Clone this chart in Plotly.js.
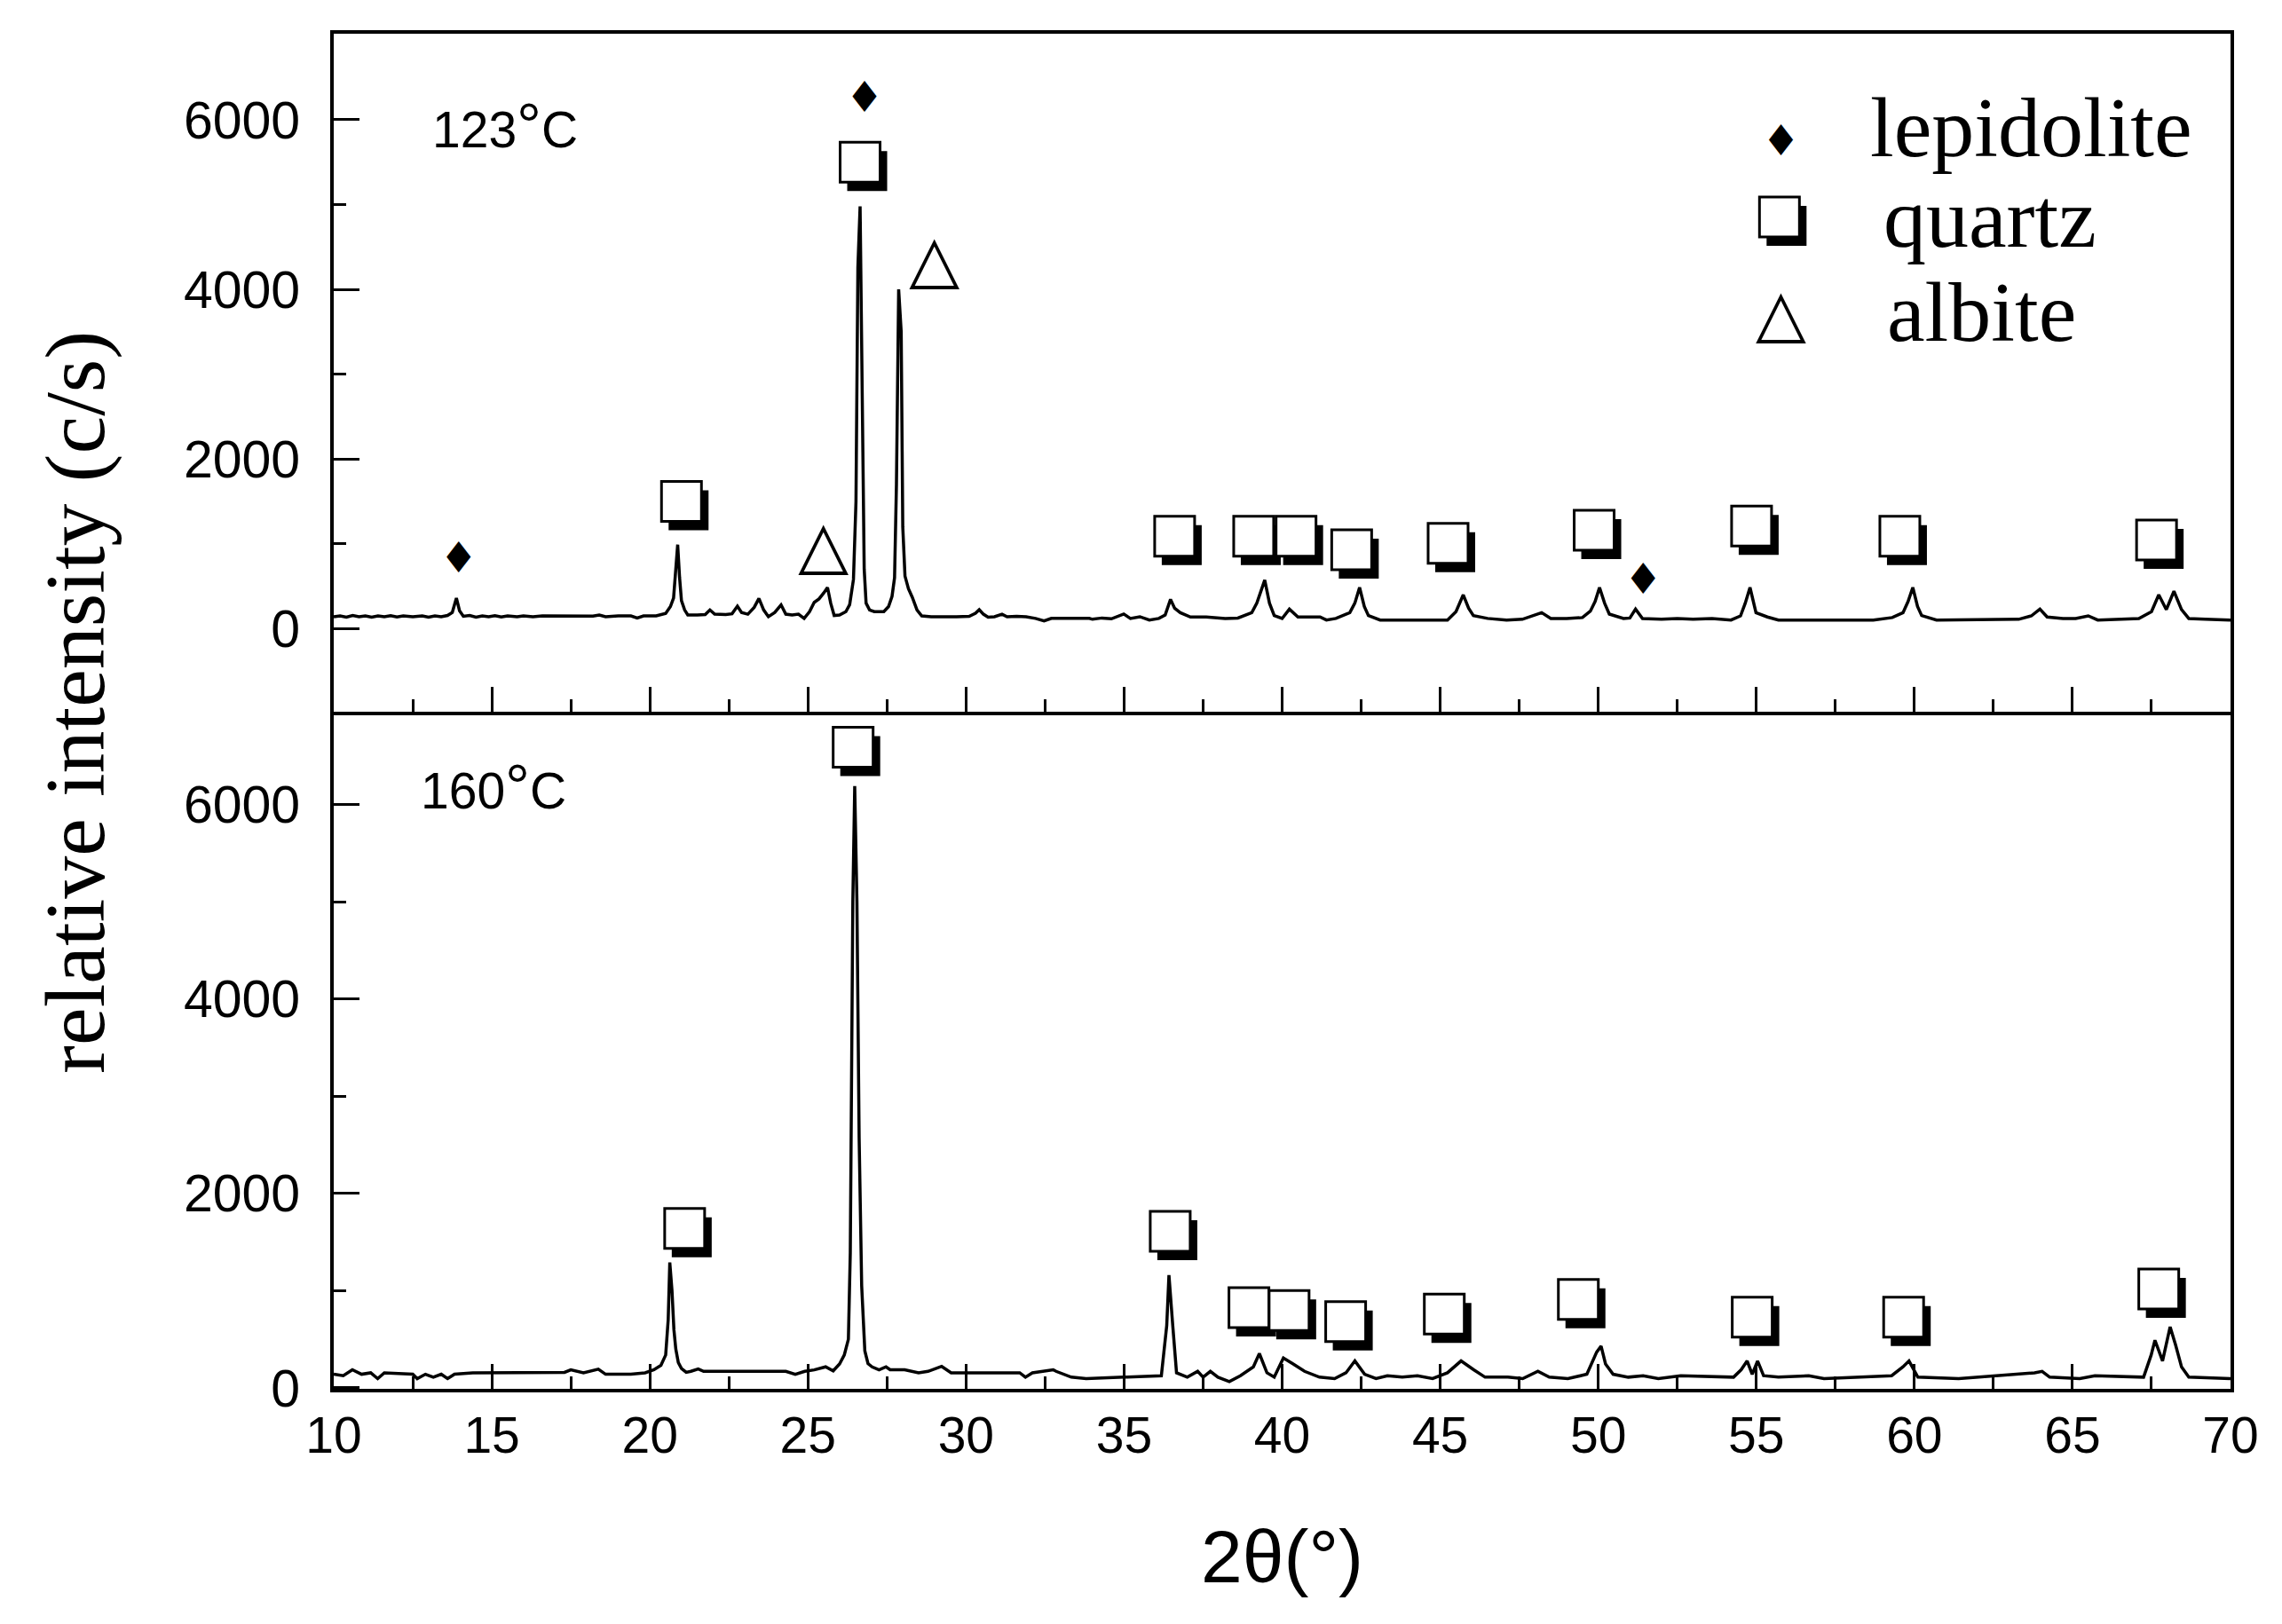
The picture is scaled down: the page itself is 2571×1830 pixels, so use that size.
<!DOCTYPE html>
<html><head><meta charset="utf-8">
<script src="https://cdn.plot.ly/plotly-3.0.1.min.js"></script>
<style>html,body{margin:0;padding:0;background:#fff;}</style>
</head><body>
<div id="chart" style="width:2571px;height:1830px;"></div>
<script>
// ---- data ----
// 123 °C pattern: [2θ, intensity]
const pattern123 = [
[10.0,140],[10.2,150],[10.4,135],[10.6,155],[10.8,140],[11.0,150],[11.2,135],[11.4,150],[11.6,140],[11.8,152],[12.0,138],[12.2,150],[12.5,140],[12.8,150],[13.0,135],[13.2,150],[13.4,140],[13.6,155],[13.75,190],[13.88,360],[13.98,210],[14.1,145],[14.3,155],[14.5,135],[14.7,150],[14.9,140],[15.1,152],[15.3,138],[15.5,150],[15.8,140],[16.0,150],[16.3,140],[16.6,150],[17.0,148],[17.4,145],[17.8,150],[18.2,148],[18.4,160],[18.6,140],[19.0,150],[19.4,150],[19.6,125],[19.8,150],[20.2,150],[20.5,180],[20.65,260],[20.75,360],[20.82,700],[20.88,990],[20.94,600],[21.0,330],[21.1,220],[21.2,160],[21.5,160],[21.75,165],[21.9,220],[22.05,170],[22.4,165],[22.6,175],[22.77,265],[22.9,190],[23.1,170],[23.3,250],[23.45,356],[23.6,220],[23.75,140],[23.95,190],[24.15,280],[24.3,170],[24.5,160],[24.7,170],[24.88,120],[25.05,200],[25.2,310],[25.35,350],[25.5,420],[25.62,485],[25.72,300],[25.83,155],[26.0,160],[26.2,200],[26.32,282],[26.44,580],[26.52,1500],[26.58,4260],[26.65,4980],[26.72,2300],[26.78,700],[26.84,300],[26.95,220],[27.1,200],[27.4,200],[27.55,260],[27.66,380],[27.74,600],[27.8,1700],[27.87,4000],[27.95,3500],[28.0,1200],[28.07,620],[28.18,470],[28.3,370],[28.45,220],[28.6,150],[28.9,140],[29.3,138],[29.7,140],[30.1,145],[30.3,180],[30.42,223],[30.55,170],[30.7,135],[30.9,140],[31.14,170],[31.3,140],[31.6,145],[31.9,140],[32.2,120],[32.47,90],[32.7,120],
[32.85,119],[33.5,120],[33.9,120],[34.0,110],[34.3,125],[34.6,115],[34.99,172],[35.2,120],[35.5,140],[35.8,101],[36.1,120],[36.3,160],[36.47,345],[36.6,240],[36.78,188],[37.1,137],[37.6,137],[38.2,119],[38.6,125],[39.04,188],[39.2,300],[39.45,572],[39.6,300],[39.75,154],[40.0,119],[40.23,230],[40.5,137],[41.2,137],[41.4,101],[41.7,120],[42.14,188],[42.3,300],[42.45,485],[42.6,260],[42.73,154],[43.1,101],[44.0,101],[45.23,101],[45.5,200],[45.73,398],[45.9,240],[46.05,154],[46.5,120],[47.1,101],[47.6,110],[48.21,188],[48.5,119],[49.0,119],[49.5,130],[49.75,206],[49.9,320],[50.04,485],[50.2,300],[50.35,171],[50.8,119],[51.0,125],[51.18,230],[51.4,119],[52.0,110],[52.5,119],[53.0,110],[53.6,119],[54.2,101],[54.5,150],[54.65,300],[54.8,485],[54.99,188],[55.35,137],[55.7,101],[57.0,101],[58.7,101],[59.3,130],[59.64,188],[59.8,320],[59.95,485],[60.1,260],[60.23,154],[60.7,101],[62.0,101],[63.3,110],[63.7,150],[63.97,230],[64.2,137],[64.7,119],[65.1,119],[65.5,150],[65.8,101],[66.3,110],[67.1,119],[67.5,200],[67.73,398],[67.97,224],[68.21,440],[68.45,224],[68.68,119],[69.2,110],[70.0,101]
];
// 160 °C pattern: [2θ, intensity]
const pattern160 = [
[10.0,140],[10.3,125],[10.59,186],[10.88,140],[11.17,155],[11.39,95],[11.6,155],[12.0,150],[12.5,140],[12.64,95],[12.9,140],[13.15,110],[13.4,140],[13.6,95],[13.82,140],[14.4,155],[15.0,155],[16.2,155],[17.3,160],[17.5,186],[17.9,155],[18.37,192],[18.6,140],[19.4,140],[19.85,155],[20.13,186],[20.35,231],[20.5,338],[20.58,700],[20.63,1290],[20.7,1000],[20.76,600],[20.82,400],[20.9,260],[21.0,200],[21.15,160],[21.3,170],[21.53,195],[21.7,170],[22.5,170],[23.5,170],[24.3,170],[24.6,140],[24.9,170],[25.2,185],[25.56,216],[25.8,175],[26.0,246],[26.15,338],[26.28,500],[26.34,1390],[26.42,5000],[26.48,6190],[26.55,5000],[26.62,2570],[26.7,1050],[26.8,380],[26.9,250],[27.03,216],[27.25,186],[27.47,216],[27.6,186],[28.06,186],[28.5,155],[28.8,170],[29.23,221],[29.53,155],[29.97,155],[31.7,155],[31.88,110],[32.1,155],[32.76,186],[32.85,170],
[33.33,110],[33.8,95],[35.0,110],[36.18,125],[36.35,642],[36.42,1159],[36.54,642],[36.66,155],[37.0,110],[37.33,170],[37.5,110],[37.73,170],[37.97,110],[38.33,64],[38.68,125],[39.09,216],[39.28,353],[39.52,155],[39.75,110],[40.04,308],[40.35,246],[40.71,170],[41.18,110],[41.66,95],[42.02,155],[42.3,277],[42.61,140],[42.97,95],[43.33,125],[43.8,110],[44.28,125],[44.76,95],[45.23,155],[45.66,277],[46.06,186],[46.42,110],[47.14,110],[47.61,95],[48.09,170],[48.45,110],[49.04,95],[49.64,140],[49.95,368],[50.09,429],[50.23,246],[50.47,140],[50.95,110],[51.42,125],[51.9,95],[52.61,125],[54.28,110],[54.52,186],[54.71,277],[54.87,140],[55.04,277],[55.23,125],[55.7,110],[56.66,125],[57.14,95],[59.28,125],[59.64,216],[59.83,277],[60.11,110],[61.4,95],[63.8,155],[64.04,170],[64.28,110],[65.23,95],[65.71,125],[67.25,110],[67.49,338],[67.61,490],[67.85,277],[68.09,627],[68.26,444],[68.45,216],[68.68,110],[70.0,95]
];
// phase labels (peak identification marks)
const lepX123 = [13.95, 26.79, 51.42];
const lepY123 = [785, 6220, 537];
const qzX123 = [21.0, 26.65, 36.6, 39.1, 40.44, 42.2, 45.25, 49.87, 54.85, 59.54, 67.66];
const qzY123 = [1500, 5500, 1090, 1090, 1090, 930, 1005, 1160, 1210, 1090, 1045];
const abX123 = [25.49, 29.0];
const abY123 = [921, 4293];
const qzX160 = [21.1, 26.43, 36.46, 38.95, 40.22, 42.01, 45.13, 49.37, 54.87, 59.66, 67.73];
const qzY160 = [1640, 6590, 1610, 826, 796, 682, 758, 910, 728, 728, 1016];
const legendSymbols = ['\u2666', '\u2751', '\u25B3'];
const legendNames = ['lepidolite', 'quartz', 'albite'];
const xTicks = [10, 15, 20, 25, 30, 35, 40, 45, 50, 55, 60, 65, 70];
const yTicks = [0, 2000, 4000, 6000];
const sampleLabels = ['123<span style="font-size:70px">\u00B0</span>C', '160<span style="font-size:70px">\u00B0</span>C'];

// ---- drawing ----
const SANS = 'Liberation Sans, Arial, sans-serif';
const SERIF = 'Liberation Serif, Times New Roman, serif';
const SYM = 'DejaVu Sans, sans-serif';

const W = 2571, H = 1830, M = {l: 376, r: 58, t: 38, b: 265, pad: 0};
const xRange = [10, 70], yTopRange = [-975, 7015], yBotRange = [-10, 6960];
const plotW = W - M.l - M.r, plotH = H - M.t - M.b;
const SQ = 45, SHX = 8, SHY = 10;   // shadowed-square glyph size and shadow offset (px)
const dX = SHX * (xRange[1] - xRange[0]) / plotW;
const dYtop = SHY * (yTopRange[1] - yTopRange[0]) / (plotH * 0.5);
const dYbot = SHY * (yBotRange[1] - yBotRange[0]) / (plotH * 0.5);

function lineTrace(p, xa, ya) {
  return {x: p.map(d => d[0]), y: p.map(d => d[1]), xaxis: xa, yaxis: ya,
    type: 'scatter', mode: 'lines', line: {color: '#000', width: 3.5}, hoverinfo: 'skip'};
}
function markTrace(xs, ys, ch, size, xa, ya) {
  return {x: xs, y: ys, xaxis: xa, yaxis: ya, type: 'scatter', mode: 'text',
    text: xs.map(() => ch), textposition: 'middle center', cliponaxis: false,
    textfont: {family: SYM, size: size, color: '#000'}, hoverinfo: 'skip'};
}
function squareTraces(xs, ys, dy, xa, ya) {
  return [
    {x: xs.map(v => v + dX), y: ys.map(v => v - dy), xaxis: xa, yaxis: ya, type: 'scatter', mode: 'markers',
      cliponaxis: false, marker: {symbol: 'square', size: SQ, color: '#000', line: {width: 0}}, hoverinfo: 'skip'},
    {x: xs, y: ys, xaxis: xa, yaxis: ya, type: 'scatter', mode: 'markers', cliponaxis: false,
      marker: {symbol: 'square', size: SQ, color: '#fff', line: {width: 3, color: '#000'}}, hoverinfo: 'skip'}
  ];
}

// legend layout in paper units
const legSymX = 0.7622;
const legSymY = [0.9214, 0.8648, 0.7944];
const legTextY = [0.9312, 0.8638, 0.7944];
const legTextX = [0.8091, 0.8161, 0.818];
// legend square placed on the top panel's axes
const legQX = [xRange[0] + legSymX * (xRange[1] - xRange[0])];
const legQY = [yTopRange[0] + (legSymY[1] - 0.5) / 0.5 * (yTopRange[1] - yTopRange[0])];

const traces = [
  lineTrace(pattern123, 'x2', 'y2'),
  lineTrace(pattern160, 'x', 'y'),
  markTrace(lepX123, lepY123, legendSymbols[0], 48, 'x2', 'y2'),
  markTrace(abX123, abY123, legendSymbols[2], 74, 'x2', 'y2'),
  ...squareTraces(qzX123, qzY123, dYtop, 'x2', 'y2'),
  ...squareTraces(qzX160, qzY160, dYbot, 'x', 'y'),
  ...squareTraces(legQX, legQY, dYtop, 'x2', 'y2')
];

const axBase = {
  showgrid: false, zeroline: false, showline: true, linecolor: '#000', linewidth: 4,
  ticks: 'inside', tickcolor: '#000', tickwidth: 3, mirror: true
};
const xBase = Object.assign({}, axBase, {
  range: xRange, tickvals: xTicks, ticklen: 28,
  minor: {ticks: 'inside', tickvals: [12.5,17.5,22.5,27.5,32.5,37.5,42.5,47.5,52.5,57.5,62.5,67.5], ticklen: 14, tickwidth: 3, tickcolor: '#000'},
  tickfont: {family: SANS, size: 57, color: '#000'}
});
const yBase = Object.assign({}, axBase, {
  tickvals: yTicks, ticklen: 29,
  minor: {ticks: 'inside', tickvals: [-1000, 1000, 3000, 5000], ticklen: 14, tickwidth: 3, tickcolor: '#000'},
  tickfont: {family: SANS, size: 59, color: '#000'}, ticklabelstandoff: 22
});

const ann = [];
const legSz = [48, 62, 74];
for (let i = 0; i < 3; i++) {
  if (i !== 1) {
    ann.push({xref: 'paper', yref: 'paper', x: legSymX + 0.001, y: legSymY[i], text: legendSymbols[i], showarrow: false,
      xanchor: 'center', yanchor: 'middle', font: {family: SYM, size: legSz[i], color: '#000'}});
  }
  ann.push({xref: 'paper', yref: 'paper', x: legTextX[i], y: legTextY[i], text: legendNames[i], showarrow: false,
    xanchor: 'left', yanchor: 'middle', font: {family: SERIF, size: 96, color: '#000'}});
}
ann.push({xref: 'paper', yref: 'paper', x: 0.051, y: 0.932, text: sampleLabels[0], showarrow: false,
  xanchor: 'left', yanchor: 'middle', font: {family: SANS, size: 57, color: '#000'}});
ann.push({xref: 'paper', yref: 'paper', x: 0.0449, y: 0.444, text: sampleLabels[1], showarrow: false,
  xanchor: 'left', yanchor: 'middle', font: {family: SANS, size: 57, color: '#000'}});
ann.push({xref: 'paper', yref: 'paper', x: -0.1362, y: 0.5069, text: 'relative intensity (c/s)', textangle: -90,
  showarrow: false, xanchor: 'center', yanchor: 'middle', font: {family: SERIF, size: 96, color: '#000'}});
ann.push({xref: 'paper', yref: 'paper', x: 0.5, y: -0.1238, text: '2\u03B8(\u00B0)', showarrow: false,
  xanchor: 'center', yanchor: 'middle', font: {family: SANS, size: 84, color: '#000'}});

const layout = {
  width: W, height: H, margin: M,
  paper_bgcolor: '#fff', plot_bgcolor: '#fff', showlegend: false,
  xaxis: Object.assign({}, xBase, {domain: [0, 1], anchor: 'y', showticklabels: true, ticklabelstandoff: 0, mirror: false}),
  yaxis: Object.assign({}, yBase, {domain: [0, 0.5], anchor: 'x', range: yBotRange}),
  xaxis2: Object.assign({}, xBase, {domain: [0, 1], anchor: 'y2', showticklabels: false, matches: 'x'}),
  yaxis2: Object.assign({}, yBase, {domain: [0.5, 1], anchor: 'x2', range: yTopRange}),
  annotations: ann
};

Plotly.newPlot('chart', traces, layout, {staticPlot: true, displayModeBar: false});
</script>
</body></html>
